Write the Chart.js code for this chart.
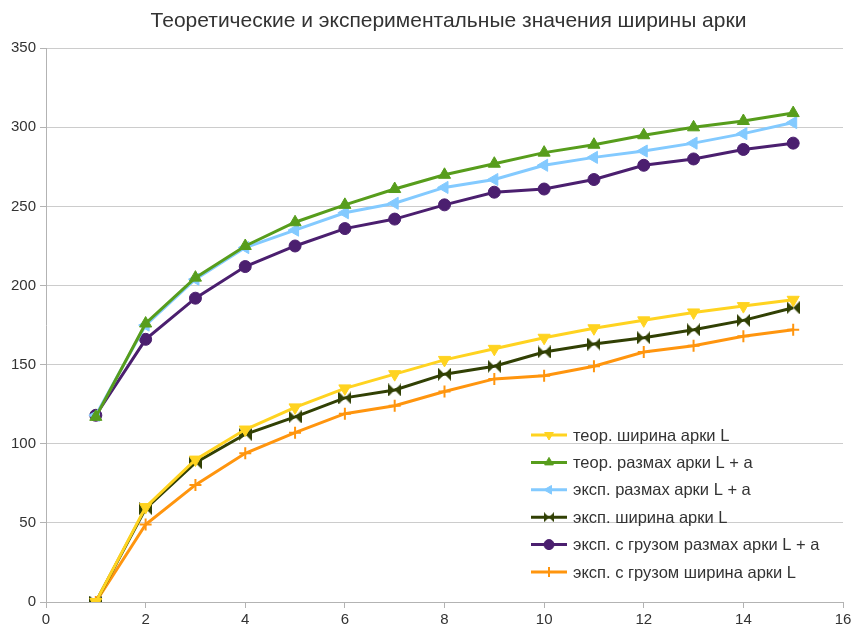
<!DOCTYPE html>
<html>
<head>
<meta charset="utf-8">
<script src="https://cdn.jsdelivr.net/npm/chart.js@4/dist/chart.umd.min.js"></script>
<style>
    body { margin: 0; background: #fff; }
</style>
</head>
<body>
<canvas id="grafico" width="852" height="631"></canvas>
<script>
const x_valores = [1, 2, 3, 4, 5, 6, 7, 8, 9, 10, 11, 12, 13, 14, 15]

const teor_shirina = [0, 60, 90, 109, 123, 135, 144, 153, 160, 167, 173, 178, 183, 187, 191]
const teor_razmah = [117, 176, 205, 225, 240, 251, 261, 270, 277, 284, 289, 295, 300, 304, 309]
const eksp_razmah = [118, 175, 204, 224, 235, 246, 252, 262, 267, 276, 281, 285, 290, 296, 303]
const eksp_shirina = [0, 59, 88, 106, 117, 129, 134, 144, 149, 158, 163, 167, 172, 178, 186]
const gruz_razmah = [118, 166, 192, 212, 225, 236, 242, 251, 259, 261, 267, 276, 280, 286, 290]
const gruz_shirina = [0, 49, 74, 94, 107, 119, 124, 133, 141, 143, 149, 158, 162, 168, 172]

const etiquetas = [
    'теор. ширина арки L',
    'теор. размах арки L + a',
    'эксп. размах арки L + a',
    'эксп. ширина арки L',
    'эксп. с грузом размах арки L + a',
    'эксп. с грузом ширина арки L'
]

const fuente = '"Liberation Sans", Arial, sans-serif'

// marcador "bowtie" para la serie verde oscuro
function bowtie(size, color) {
    const c = document.createElement('canvas')
    c.width = size
    c.height = size
    const g = c.getContext('2d')
    g.fillStyle = color
    g.beginPath()
    g.moveTo(0, 0)
    g.lineTo(size, size)
    g.lineTo(size, 0)
    g.lineTo(0, size)
    g.closePath()
    g.fill()
    return c
}

const puntos = (ys) => ys.map((y, i) => ({ x: x_valores[i], y: y }))

function serie(label, data, color, style, rotation, radius) {
    return {
        label: label,
        data: puntos(data),
        borderColor: color,
        backgroundColor: color,
        borderWidth: 3,
        pointStyle: style,
        rotation: rotation,
        pointRadius: radius,
        pointBorderWidth: style === 'cross' ? 2 : 1,
        pointHoverRadius: radius,
        tension: 0
    }
}

const datasets = [
    serie(etiquetas[0], teor_shirina, '#ffd320', 'triangle', 180, 7),
    serie(etiquetas[1], teor_razmah, '#579d1c', 'triangle', 0, 7),
    serie(etiquetas[2], eksp_razmah, '#83caff', 'triangle', -90, 7),
    serie(etiquetas[3], eksp_shirina, '#314004', bowtie(13, '#314004'), 0, 7),
    serie(etiquetas[4], gruz_razmah, '#4b1f6f', 'circle', 0, 6),
    serie(etiquetas[5], gruz_shirina, '#ff950e', 'cross', 0, 6)
]

// leyenda dentro del area del grafico
const leyenda = {
    id: 'leyenda',
    afterLayout(chart) {
        chart.titleBlock.left += 54
    },
    afterDraw(chart) {
        const ctx = chart.ctx
        const x0 = 531, y0 = 435, paso = 27.4
        ctx.save()
        ctx.font = '16.5px ' + fuente
        ctx.textBaseline = 'middle'
        chart.data.datasets.forEach((ds, i) => {
            const y = y0 + i * paso
            ctx.strokeStyle = ds.borderColor
            ctx.lineWidth = 3
            ctx.beginPath()
            ctx.moveTo(x0, y)
            ctx.lineTo(x0 + 36, y)
            ctx.stroke()
            ctx.fillStyle = ds.backgroundColor
            if (Chart.helpers && Chart.helpers.drawPoint) {
                ctx.lineWidth = ds.pointBorderWidth
                let estilo = ds.pointStyle
                if (typeof estilo !== 'string') estilo = bowtie(10, ds.borderColor)
                Chart.helpers.drawPoint(ctx, {
                    pointStyle: estilo,
                    rotation: ds.rotation,
                    radius: 5,
                    borderWidth: ds.pointBorderWidth
                }, x0 + 18, y)
            }
            ctx.fillStyle = '#333333'
            ctx.fillText(ds.label, x0 + 42, y + 1)
        })
        ctx.restore()
    }
}

const grafico = document.getElementById('grafico').getContext('2d')

new Chart(grafico, {
    type: 'line',
    data: { datasets: datasets },
    options: {
        responsive: false,
        animation: false,
        layout: {
            padding: { left: 0, right: 9, top: 0, bottom: 0 }
        },
        scales: {
            x: {
                type: 'linear',
                min: 0,
                max: 16,
                ticks: {
                    stepSize: 2,
                    color: '#333333',
                    padding: 3,
                    font: { size: 15, family: fuente }
                },
                grid: {
                    drawOnChartArea: false,
                    drawTicks: true,
                    tickLength: 6,
                    color: '#b3b3b3'
                },
                border: { color: '#b3b3b3', width: 1 },
                afterFit(scale) {
                    scale.height = 29
                    scale.paddingLeft = 0
                    scale.paddingRight = 0
                }
            },
            y: {
                min: 0,
                max: 350,
                ticks: {
                    stepSize: 50,
                    color: '#333333',
                    padding: 4,
                    font: { size: 15, family: fuente }
                },
                grid: {
                    color: '#cccccc',
                    tickLength: 6,
                    tickColor: '#b3b3b3'
                },
                border: { color: '#b3b3b3', width: 1 },
                afterFit(scale) { scale.width = 46 }
            }
        },
        plugins: {
            legend: { display: false },
            tooltip: { enabled: false },
            title: {
                display: true,
                text: 'Теоретические и экспериментальные значения ширины арки',
                color: '#333333',
                font: { size: 21, weight: 'normal', family: fuente },
                padding: { top: 9, bottom: 14 }
            }
        }
    },
    plugins: [leyenda]
});
</script>
</body>
</html>
